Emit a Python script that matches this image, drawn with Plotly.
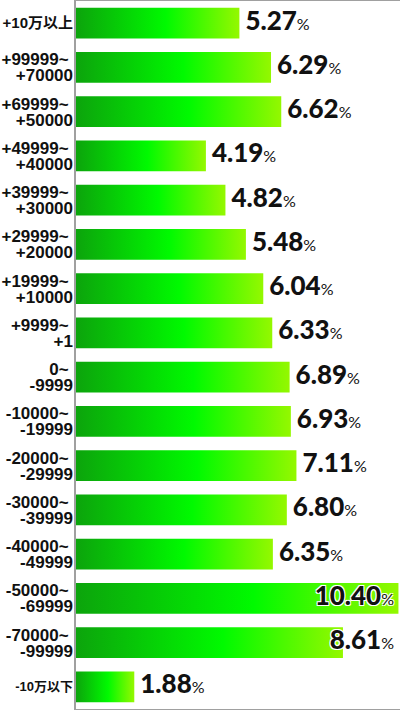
import plotly.graph_objects as go

categories = [
    "+10万以上", "+99999~\n+70000", "+69999~\n+50000", "+49999~\n+40000",
    "+39999~\n+30000", "+29999~\n+20000", "+19999~\n+10000", "+9999~\n+1",
    "0~\n-9999", "-10000~\n-19999", "-20000~\n-29999", "-30000~\n-39999",
    "-40000~\n-49999", "-50000~\n-69999", "-70000~\n-99999", "-10万以下",
]
values = [5.27, 6.29, 6.62, 4.19, 4.82, 5.48, 6.04, 6.33,
          6.89, 6.93, 7.11, 6.80, 6.35, 10.40, 8.61, 1.88]

XMAX = 10.45
grad = [[0.0, "#0ca40c"], [0.55, "#00fa00"], [1.0, "#94f800"]]
half = 0.35

fig = go.Figure()
for i, (cat, v) in enumerate(zip(categories, values)):
    fig.add_trace(go.Scatter(
        x=[0, v, v, 0, 0],
        y=[i - half, i - half, i + half, i + half, i - half],
        mode="lines", line=dict(width=0),
        fill="toself",
        fillgradient=dict(type="horizontal", colorscale=grad),
        hoverinfo="skip", showlegend=False,
    ))

shadow = "white 1px 1px 0px, white -1px -1px 0px, white 1px -1px 0px, white -1px 1px 0px"
NUM_FONT = dict(family="Lato", size=26, color="#111", weight=900, shadow=shadow)
pct = "<span style='font-size:16px;font-weight:normal'>%</span>"

inside = [v > 8 for v in values]
# values that sit after their bar
fig.add_trace(go.Scatter(
    x=[v for v, ins in zip(values, inside) if not ins],
    y=[i for i, ins in enumerate(inside) if not ins],
    text=[f"{v:.2f}{pct}" for v, ins in zip(values, inside) if not ins],
    mode="markers+text", textposition="middle right", textfont=NUM_FONT,
    marker=dict(size=8, color="rgba(0,0,0,0)"),
    hoverinfo="skip", showlegend=False, cliponaxis=False,
))
# values that run up to the right edge
fig.add_trace(go.Scatter(
    x=[XMAX for ins in inside if ins],
    y=[i for i, ins in enumerate(inside) if ins],
    text=[f"{v:.2f}{pct}" for v, ins in zip(values, inside) if ins],
    mode="markers+text", textposition="middle left", textfont=NUM_FONT,
    marker=dict(size=8, color="rgba(0,0,0,0)"),
    hoverinfo="skip", showlegend=False, cliponaxis=False,
))

# category labels as tick labels on overlaid y axes
two = ["\n" in c for c in categories]
line1_txt = [c.split("\n")[0] if t else "" for c, t in zip(categories, two)]
line2_txt = [c.split("\n")[1] if t else "" for c, t in zip(categories, two)]
last = len(categories) - 1
single_big = [c if (not t and i != last) else "" for i, (c, t) in enumerate(zip(categories, two))]
single_small = [c if (not t and i == last) else "" for i, (c, t) in enumerate(zip(categories, two))]
idx = list(range(len(categories)))

LABEL_FONT = dict(family="Liberation Sans, Noto Sans CJK JP", size=17, color="#111", weight="bold")
TOP_FONT = dict(family="Liberation Sans, Noto Sans CJK JP", size=15, color="#111", weight="bold")
SMALL_FONT = dict(family="Liberation Sans, Noto Sans CJK JP", size=13, color="#111", weight="bold")

for ax in ("y2", "y3", "y4"):
    fig.add_trace(go.Scatter(x=[None], y=[None], yaxis=ax, showlegend=False, hoverinfo="skip"))

common = dict(range=[15.5, -0.5], showgrid=False, zeroline=False, fixedrange=True,
              tickmode="array", tickvals=idx, ticks="", ticklabelstandoff=2, automargin=False)

fig.update_layout(
    width=400, height=710,
    margin=dict(l=76, r=0, t=1, b=1),
    paper_bgcolor="white", plot_bgcolor="white",
    xaxis=dict(range=[0, XMAX], showgrid=False, zeroline=False, showticklabels=False,
               showline=True, linecolor="#a0a0a0", linewidth=1, mirror=True, fixedrange=True,
               automargin=False),
    yaxis=dict(**common, ticktext=line1_txt, ticklabelshift=8, tickfont=LABEL_FONT,
               showline=True, linecolor="#a0a0a0", linewidth=2),
    yaxis2=dict(**common, ticktext=line2_txt, ticklabelshift=-8, tickfont=LABEL_FONT,
                overlaying="y", side="left", showline=False),
    yaxis3=dict(**common, ticktext=single_big, tickfont=TOP_FONT,
                overlaying="y", side="left", showline=False),
    yaxis4=dict(**common, ticktext=single_small, tickfont=SMALL_FONT,
                overlaying="y", side="left", showline=False),
)

fig.write_html("out.html", config={"displayModeBar": False},
               post_script="document.body.style.margin='0px';")
